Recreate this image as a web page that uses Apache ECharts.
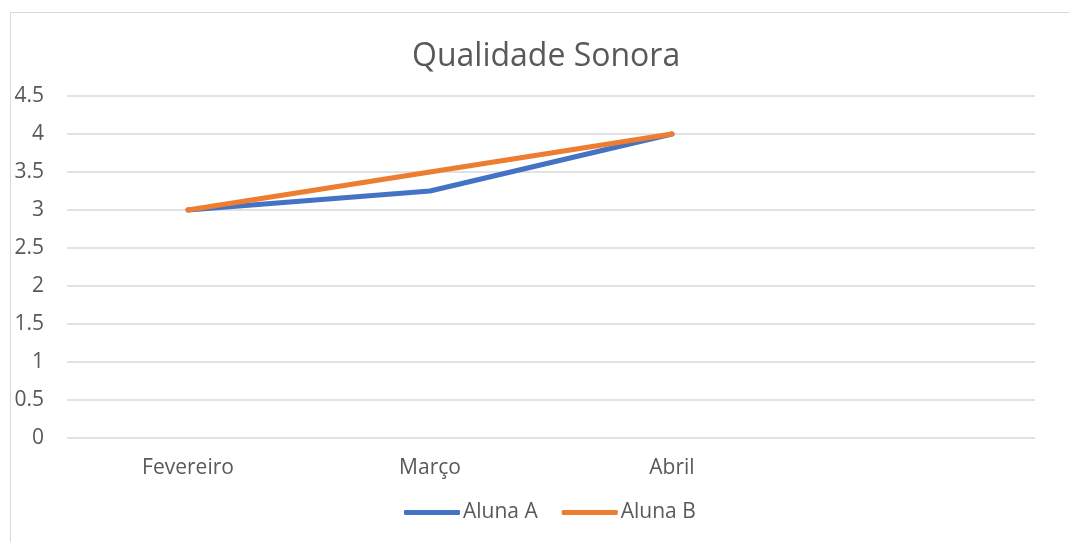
<!DOCTYPE html>
<html><head><meta charset="utf-8">
<script src="https://cdn.jsdelivr.net/npm/echarts@6/dist/echarts.min.js"></script>
<style>html,body{margin:0;padding:0;background:#fff}#c{width:1069px;height:542px}</style>
</head><body><div id="c"></div>
<script>
const categories = ['Fevereiro', 'Março', 'Abril', ''];
const alunaA = [3, 3.25, 4, null];
const alunaB = [3, 3.5, 4, null];
const yTicks = [0, 0.5, 1, 1.5, 2, 2.5, 3, 3.5, 4, 4.5];
const chart = echarts.init(document.getElementById('c'), null, {renderer: 'canvas'});
const font = '"Open Sans", Calibri, sans-serif';
chart.setOption({
  animation: false,
  backgroundColor: '#fff',
  graphic: [{type: 'rect', shape: {x: 10.5, y: 12.5, width: 1100, height: 600}, style: {fill: 'none', stroke: '#d9d9d9', lineWidth: 1}, silent: true}],
  title: {text: 'Qualidade Sonora', left: 407, top: 36, textStyle: {fontFamily: font, fontSize: 32, fontWeight: 'normal', color: '#595959'}},
  grid: {left: 67, right: 34, top: 96, bottom: 104},
  legend: {bottom: 14, left: 399, itemWidth: 56, itemHeight: 5, itemGap: 24, icon: 'roundRect',
    textStyle: {fontFamily: font, fontSize: 21, color: '#595959', padding: [0,0,0,-2]}, data: ['Aluna A', 'Aluna B']},
  xAxis: {type: 'category', data: categories, boundaryGap: true,
    axisLine: {show: false}, axisTick: {show: false},
    axisLabel: {fontFamily: font, fontSize: 21, color: '#595959', margin: 20}},
  yAxis: {type: 'value', min: yTicks[0], max: yTicks[yTicks.length-1], interval: 0.5,
    axisLine: {show: false}, axisTick: {show: false},
    axisLabel: {fontFamily: font, fontSize: 21, color: '#595959', margin: 23},
    splitLine: {lineStyle: {color: '#d9d9d9', width: 1.5}}},
  series: [
    {name: 'Aluna A', type: 'line', data: alunaA, symbol: 'none', lineStyle: {color: '#4472C4', width: 5, cap: 'round', join: 'round'}, itemStyle: {color: '#4472C4'}},
    {name: 'Aluna B', type: 'line', data: alunaB, symbol: 'none', lineStyle: {color: '#ED7D31', width: 5, cap: 'round', join: 'round'}, itemStyle: {color: '#ED7D31'}}
  ]
});
</script></body></html>
